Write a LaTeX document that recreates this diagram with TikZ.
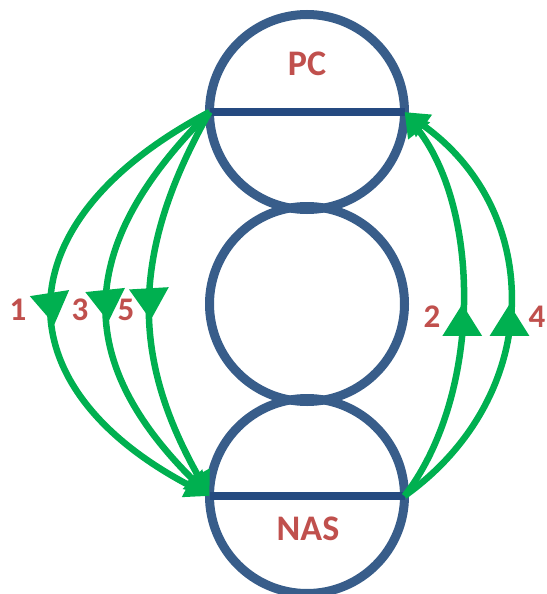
\documentclass[tikz,border=0pt]{standalone}
\usepackage{fontspec}
\setmainfont{Carlito}
\usetikzlibrary{arrows.meta,decorations.markings}
\definecolor{RingBlue}{HTML}{385D8A}
\definecolor{BarBlue}{HTML}{254A80}
\definecolor{FlowGreen}{HTML}{00B050}
\definecolor{LabelRed}{HTML}{C0504D}
\tikzset{
  ring/.style     = {circle, draw=RingBlue, line width=9pt, fill=none,
                     minimum size=195pt, inner sep=0pt, outer sep=0pt},
  bar/.style      = {draw=BarBlue, line width=8pt},
  flow/.style     = {draw=FlowGreen, line width=6.5pt,
                     -{Triangle[length=24pt,width=26pt]}},
  midarrow/.style = {postaction={decorate, decoration={markings,
                     mark=at position #1 with
                     {\arrow[FlowGreen]{Triangle[length=32pt,width=38pt]}}}}},
  tag/.style      = {text=LabelRed, inner sep=0pt,
                     font=\bfseries\fontsize{36}{36}\selectfont},
  num/.style      = {text=LabelRed, inner sep=0pt,
                     font=\bfseries\fontsize{33}{33}\selectfont},
}

\begin{document}
\begin{tikzpicture}[x=1pt, y=-1pt]
\useasboundingbox (0,0) rectangle (546,594);

% =========================================================================
% Stack of three rings
% =========================================================================
\node[ring] (pc)  at (307,112) {};
\node[ring] (mid) at (307,304) {};
\node[ring] (nas) at (307,496) {};

\draw[bar] (pc.west)  -- (pc.east);
\draw[bar] (nas.west) -- (nas.east);

\node[tag] (pclbl)  at (307,63.5) {PC};
\node[tag] (naslbl) at (308,529)  {NAS};

% =========================================================================
% Flows PC -> NAS (left side)
% =========================================================================
\draw[flow, midarrow=0.54] (pc.west) .. controls +(-209,110) and +(-209,-110) .. (nas.west);
\draw[flow, midarrow=0.54] (pc.west) .. controls +(-136,135) and +(-136,-135) .. (nas.west);
\draw[flow, midarrow=0.54] (pc.west) .. controls +(-79,140)  and +(-79,-140)  .. (nas.west);

% Flows NAS -> PC (right side)
\draw[flow, midarrow=0.5] (nas.east) .. controls +(77,-100)  and +(77,100)  .. (pc.east);
\draw[flow, midarrow=0.5] (nas.east) .. controls +(140,-100) and +(140,100) .. (pc.east);

% =========================================================================
% Step numbers
% =========================================================================
\node[num] (n1) at (18,310)  {1};
\node[num] (n3) at (80,310)  {3};
\node[num] (n5) at (126,310) {5};
\node[num] (n2) at (432,317) {2};
\node[num] (n4) at (537,317) {4};

\end{tikzpicture}
\end{document}
